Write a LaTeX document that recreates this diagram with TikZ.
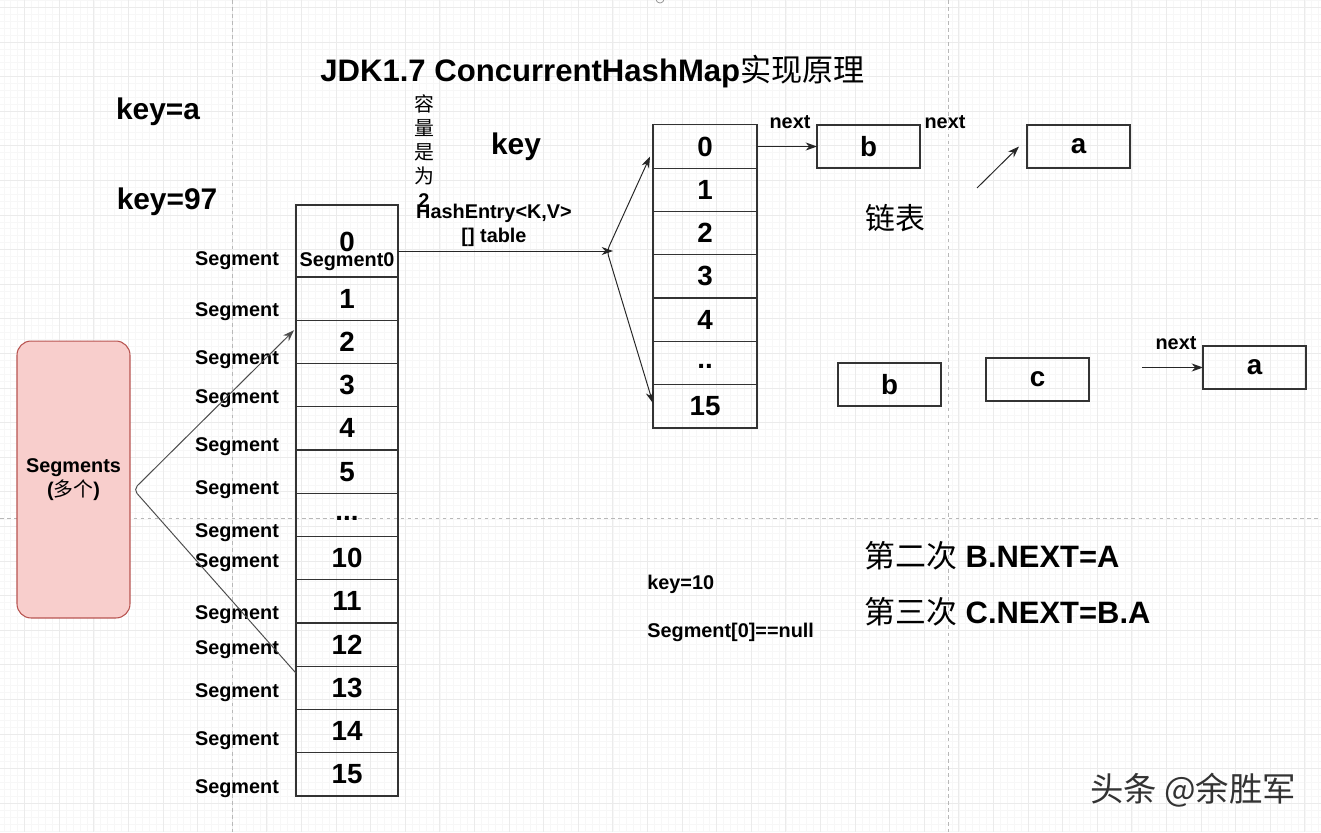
\documentclass[tikz,border=0pt]{standalone}
\usepackage{fontspec}
\setmainfont{Liberation Sans}
\newfontfamily\cjk{Noto Sans CJK SC}
\usetikzlibrary{arrows.meta,calc,positioning}
\def\bigfont{\fontsize{17}{20}\selectfont\bfseries}
\def\numfont{\fontsize{15.8}{18}\selectfont\bfseries}
\def\smallfont{\fontsize{11.3}{13.6}\selectfont\bfseries}
\def\segdots{\raisebox{-0.4em}{...}}
\def\tabdots{\raisebox{-0.4em}{..}}
\definecolor{segfill}{HTML}{F8CECC}
\definecolor{segline}{HTML}{B85450}

\begin{document}
\begin{tikzpicture}[x=0.02cm, y=-0.02cm,
    gridminor/.style={black!3, line width=0.3pt},
    gridmajor/.style={black!8, line width=0.4pt},
    pagebreak/.style={black!28, dash pattern=on 2pt off 2pt, line width=0.4pt},
    cell/.style={draw=black!80, line width=0.7pt, minimum width=2.04cm, minimum height=0.865cm, inner sep=0pt, outer sep=0pt, font=\numfont},
    entry/.style={cell, minimum width=2.08cm, minimum height=0.866cm},
    box/.style={cell, minimum width=2.06cm, minimum height=0.86cm},
    bigtxt/.style={font=\bigfont, inner sep=0pt},
    segtxt/.style={font=\smallfont, inner sep=0pt},
    arr/.style={-{Stealth[length=6.5pt,width=4.6pt]}, black!85, line width=0.55pt},
    arrboth/.style={{Stealth[length=6.5pt,width=4.6pt]}-{Stealth[length=6.5pt,width=4.6pt]}, black!85, line width=0.55pt}]
	%%%%% BACKGROUND %%%%%
	\fill[white] (0,0) rectangle (1321,832);
	\useasboundingbox (0,0) rectangle (1321,832);
	\foreach \k in {-3,...,188} \draw[gridminor] ({24.6+6.92*\k},0) -- ({24.6+6.92*\k},832);
	\foreach \k in {-1,...,119} \draw[gridminor] (0,{7.3+6.92*\k}) -- (1321,{7.3+6.92*\k});
	\foreach \k in {0,...,37} \draw[gridmajor] ({24.6+34.6*\k},0) -- ({24.6+34.6*\k},832);
	\foreach \k in {0,...,23} \draw[gridmajor] (0,{7.3+34.6*\k}) -- (1321,{7.3+34.6*\k});
	\draw[pagebreak] (232,0) -- (232,832);
	\draw[pagebreak] (948,0) -- (948,832);
	\draw[pagebreak] (0,518) -- (1321,518);
	\draw[black!45] (660,-1) circle[radius=2.3pt];
	
	%%%%% TEXTS %%%%%
	\node[bigtxt, font=\fontsize{17.7}{20}\selectfont\bfseries, anchor=west] (title) at (320,72) {JDK1.7 ConcurrentHashMap{\cjk\mdseries 实现原理}};
	\node[bigtxt] (keya) at (158,112) {key=a};
	\node[bigtxt] (key97) at (167,202) {key=97};
	\node[bigtxt] (key) at (516,147) {key};
	\node[font=\cjk\fontsize{11.3}{13.6}\selectfont, align=center, inner sep=0pt] (cap) at (424,151) {容\\量\\是\\为\\{\rmfamily\bfseries 2}};
	\node[segtxt, align=center] (hash) at (494,225) {HashEntry<K,V>\\{[]} table};
	\node[font=\cjk\fontsize{17}{20}\selectfont, inner sep=0pt] (chain) at (895,218) {链表};
	\node[segtxt, anchor=west] (key10) at (647,584) {key=10};
	\node[segtxt, anchor=west] (segnull) at (647,632) {Segment[0]==null};
	\node[font=\fontsize{17.6}{20}\selectfont, anchor=west, inner sep=0pt] (second) at (864,556) {{\cjk 第二次} \bfseries B.NEXT=A};
	\node[font=\fontsize{17.6}{20}\selectfont, anchor=west, inner sep=0pt] (third) at (864,612) {{\cjk 第三次} \bfseries C.NEXT=B.A};
	\node[font=\cjk\fontsize{19}{21}\selectfont, text=black!80, inner sep=0pt] (mark) at (1193,790) {头条 @余胜军};
	
	%%%%% SEGMENTS %%%%%
	\node[draw=segline, fill=segfill, line width=0.6pt, rounded corners=8pt, minimum width=2.26cm, minimum height=5.54cm, align=center, font=\smallfont] (segs) at (73.5,479.5) {Segments\\({\cjk\mdseries 多个})};
	\foreach \y [count=\i] in {261,312,360,399,447,490,533,563,615,650,693,741,789}
		\node[segtxt] (lab\i) at (237,\y) {Segment};
	
	\node[cell, minimum height=1.44cm] (seg0) at (347,241) {};
	\node[font=\numfont, inner sep=0pt] (seg0num) at (347,242) {0};
	\node[segtxt] (seg0lab) at (347,262) {Segment0};
	\foreach \n/\t [remember=\n as \p (initially 0)] in {1/1,2/2,3/3,4/4,5/5,x/\segdots,10/10,11/11,12/12,13/13,14/14,15/15}
		\node[cell, below=0pt of seg\p] (seg\n) {\t};
	
	\coordinate (fork) at ($(segs.east)+(3,10)$);
	\draw[arr, black!70, rounded corners=3] ($(seg13.north west)+(0,7)$) -- (fork) -- ($(seg2.north west)+(-2,10)$);
	
	%%%%% TABLE %%%%%
	\node[entry] (t0) at (705,146.5) {0};
	\foreach \n/\t [remember=\n as \p (initially 0)] in {1/1,2/2,3/3,4/4,x/\tabdots,15/15}
		\node[entry, below=0pt of t\p] (t\n) {\t};
	
	\coordinate (split) at (607,251);
	\draw[arr] (seg0.east |- split) -- ($(split)+(6,0)$);
	\draw[arrboth, rounded corners=3] ($(t0.west)+(-3,10)$) -- (split) -- ($(t15.west)+(0,-3)$);
	
	%%%%% LISTS %%%%%
	\node[box] (bb) at (868.5,146.5) {b};
	\node[box] (ba) at (1078.5,146.5) {a};
	\node[box] (b2) at (889.5,384.5) {b};
	\node[box] (cc) at (1037.5,379.5) {c};
	\node[box] (a2) at (1254.5,367.5) {a};
	
	\draw[arr] (t0.east) -- (bb.west);
	\node[segtxt] (next1) at (790,122) {next};
	\node[segtxt] (next2) at (945,122) {next};
	\coordinate (free1) at (977,188);
	\draw[arr] (free1) -- ($(ba.west)+(-8,0)$);
	\node[segtxt] (next3) at (1176,343) {next};
	\coordinate (free2) at (1142,367.5);
	\draw[arr] (free2) -- (a2.west);
\end{tikzpicture}
\end{document}
